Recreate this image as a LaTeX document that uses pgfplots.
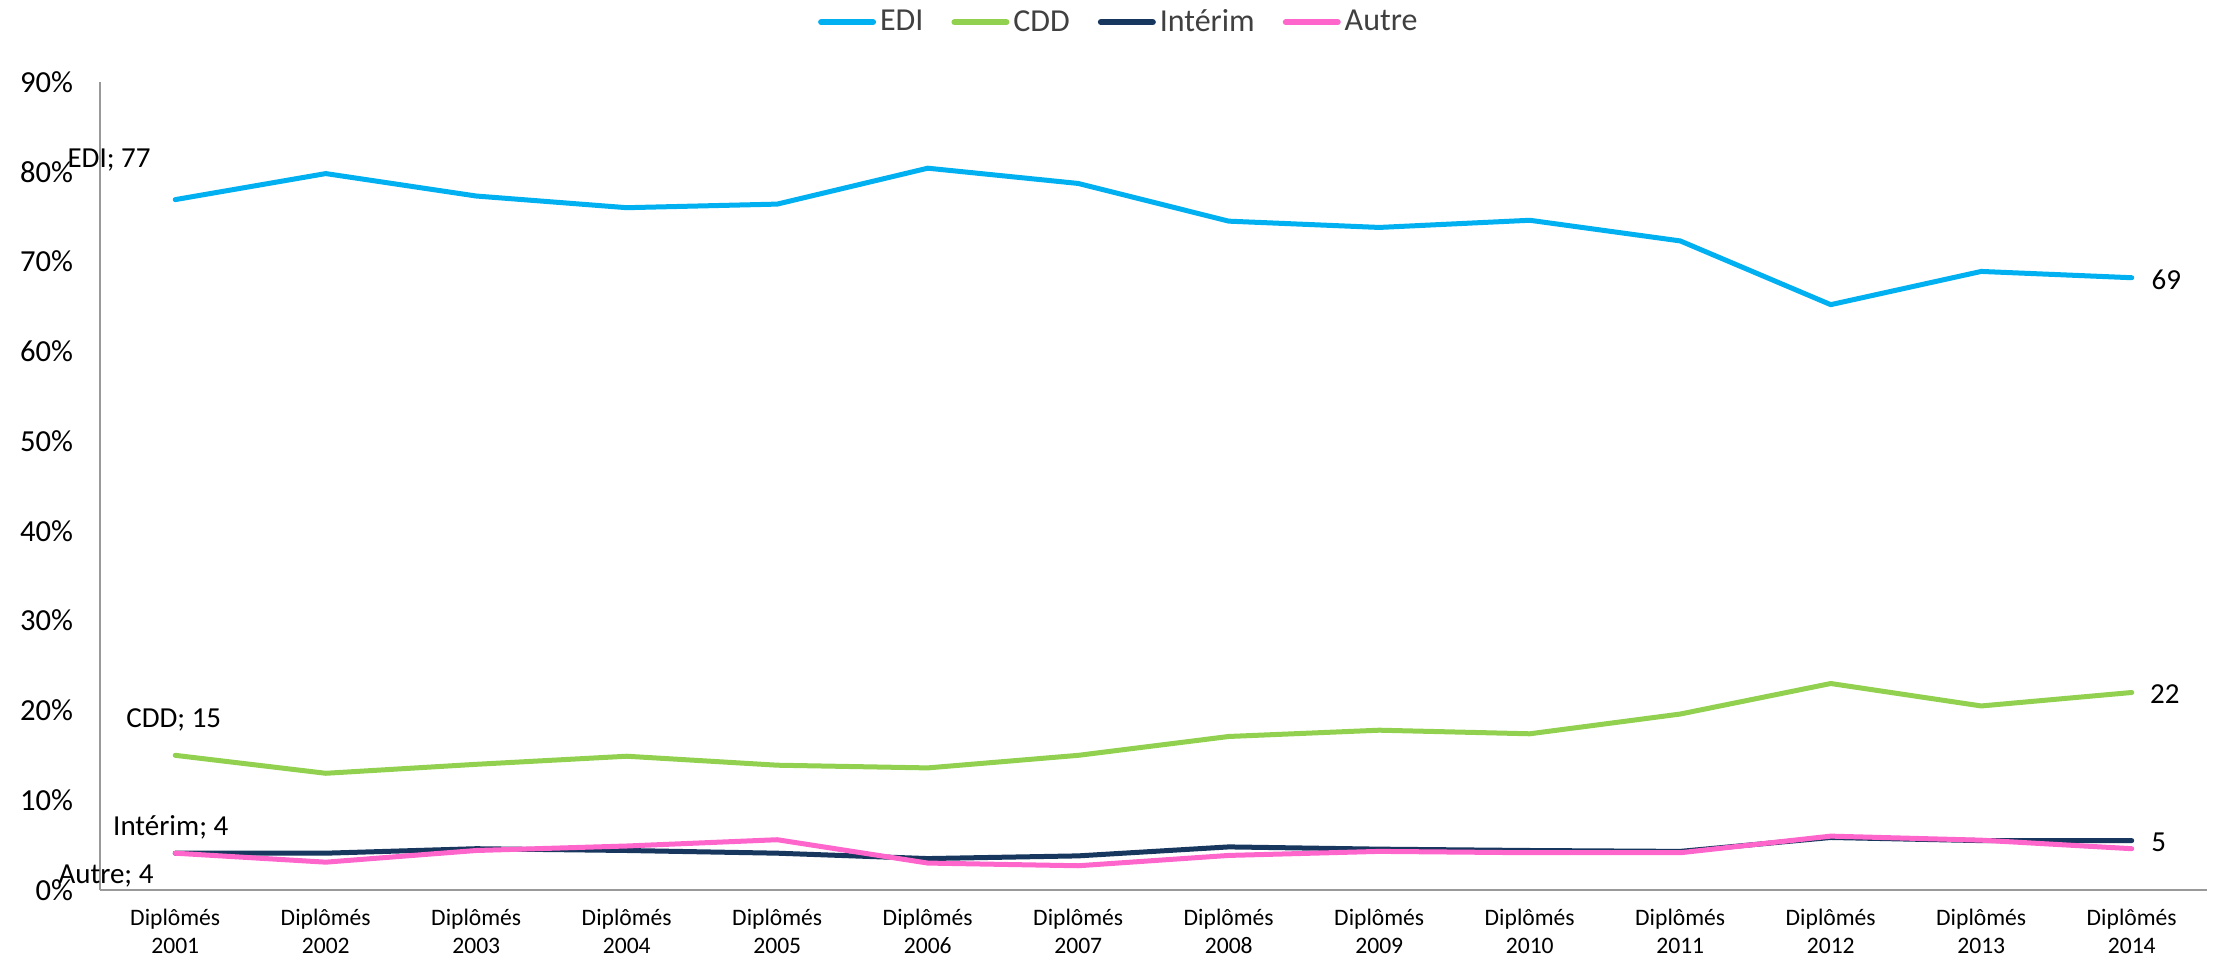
\documentclass[border=0pt]{standalone}
\usepackage{fontspec}
\setmainfont{Carlito}
\usepackage{pgfplots}
\pgfplotsset{compat=1.18}
\definecolor{cEDI}{HTML}{00B0F0}
\definecolor{cCDD}{HTML}{92D050}
\definecolor{cINT}{HTML}{17375E}
\definecolor{cAUT}{HTML}{FF66CC}
\definecolor{legtxt}{HTML}{404040}
\begin{document}
\begin{tikzpicture}
\useasboundingbox (-50bp,-36bp) rectangle (1057.5bp,445bp);
\begin{axis}[
  at={(0,0)}, anchor=south west,
  scale only axis,
  width=1053.5bp, height=404bp,
  xmin=-0.5, xmax=13.5, ymin=0, ymax=90,
  axis x line=bottom, axis y line=left,
  axis line style={draw=black!40, line width=0.8bp, -},
  major tick length=0pt,
  xtick={0,...,13},
  xticklabels={{Diplômés\\2001},{Diplômés\\2002},{Diplômés\\2003},{Diplômés\\2004},{Diplômés\\2005},{Diplômés\\2006},{Diplômés\\2007},{Diplômés\\2008},{Diplômés\\2009},{Diplômés\\2010},{Diplômés\\2011},{Diplômés\\2012},{Diplômés\\2013},{Diplômés\\2014}},
  xticklabel style={align=center, font=\fontsize{11.8bp}{14bp}\selectfont, text=black, yshift=-6bp},
  ytick={0,10,...,90},
  yticklabels={0\%,10\%,20\%,30\%,40\%,50\%,60\%,70\%,80\%,90\%},
  yticklabel style={font=\fontsize{15.3bp}{18bp}\selectfont, text=black, xshift=-10bp},
  /pgf/number format/assume math mode=true,
  legend columns=4,
  legend style={at={(0.484,1.074)}, anchor=center, draw=none, fill=none,
    font=\fontsize{16bp}{19bp}\selectfont, text=legtxt,
    /tikz/every even column/.append style={column sep=12bp},
    inner sep=0pt},
  legend cell align=left,
  legend image code/.code={\draw[#1, line width=3bp, line cap=round] (0bp,0bp) -- (26bp,0bp);},
  every axis plot/.append style={line width=2.5bp, line join=round, line cap=round, mark=none},
  clip=false,
]
\addplot[cEDI] coordinates {(0,76.9) (1,79.8) (2,77.3) (3,76.0) (4,76.4) (5,80.4) (6,78.7) (7,74.5) (8,73.8) (9,74.6) (10,72.3) (11,65.2) (12,68.9) (13,68.2)};
\addlegendentry{EDI}
\addplot[cCDD] coordinates {(0,15.0) (1,13.0) (2,14.0) (3,14.9) (4,13.9) (5,13.6) (6,15.0) (7,17.1) (8,17.8) (9,17.4) (10,19.6) (11,23.0) (12,20.5) (13,22.0)};
\addlegendentry{CDD}
\addplot[cINT] coordinates {(0,4.1) (1,4.1) (2,4.6) (3,4.4) (4,4.1) (5,3.5) (6,3.8) (7,4.8) (8,4.55) (9,4.4) (10,4.3) (11,5.85) (12,5.5) (13,5.5)};
\addlegendentry{Intérim}
\addplot[cAUT] coordinates {(0,4.1) (1,3.1) (2,4.4) (3,4.9) (4,5.6) (5,3.0) (6,2.7) (7,3.85) (8,4.3) (9,4.15) (10,4.15) (11,6.0) (12,5.55) (13,4.6)};
\addlegendentry{Autre}
\begin{scope}[every node/.style={font=\fontsize{14.5bp}{17bp}\selectfont, text=black, inner sep=0pt}]
\node at (axis cs:-0.44,81.3) {EDI; 77};
\node at (axis cs:-0.01,18.9) {CDD; 15};
\node at (axis cs:-0.03,7.0) {Intérim; 4};
\node at (axis cs:-0.46,1.56) {Autre; 4};
\node at (axis cs:13.23,68.0) {69};
\node at (axis cs:13.22,21.8) {22};
\node at (axis cs:13.18,5.35) {5};
\end{scope}
\end{axis}
\end{tikzpicture}
\end{document}
